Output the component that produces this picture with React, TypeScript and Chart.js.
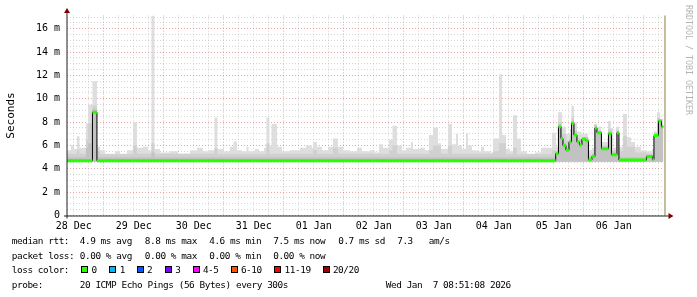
import React, { useEffect, useRef } from 'react';
import { Chart, registerables } from 'chart.js';

Chart.register(...registerables);

// ---- axis data (hours since 28 Dec 00:00) ----
const xStart = 9.32;
const xEnd = 249.32;
const nowHour = 248.5;
const dataEnd = 247.84;
const dayLabels = ['28 Dec', '29 Dec', '30 Dec', '31 Dec', '01 Jan', '02 Jan', '03 Jan', '04 Jan', '05 Jan', '06 Jan'];
const yMax = 17.14;
const yMajorTicks = [0, 2, 4, 6, 8, 10, 12, 14, 16];
const yUnit = 'm';

// ---- series: [start hour, value in ms] ----
const medianSteps: [number, number][] = [
  [9.3, 4.7], [19.5, 8.85], [21.3, 4.7], [204.8, 5.3], [205.9, 7.6], [206.9, 6.6], [207.7, 6.0],
  [208.9, 5.6], [210.1, 6.3], [211.1, 7.9], [212.1, 6.9], [213.3, 6.3], [214.3, 6.05], [215.3, 6.55],
  [216.9, 6.4], [217.9, 4.77], [219.3, 5.05], [220.5, 7.5], [221.3, 7.1], [223.1, 5.72], [225.9, 7.0],
  [227.1, 5.2], [229.3, 7.1], [230.1, 4.75], [241.1, 5.05], [243.5, 4.8], [244.1, 6.85], [245.9, 8.1],
  [247.1, 7.6],
];

const smokeMaxSteps: [number, number][] = [
  [9.3, 5.6], [10.9, 6.0], [12.1, 5.7], [13.3, 6.8], [14.3, 5.8], [16.9, 7.9], [17.7, 9.5], [19.5, 11.5],
  [21.3, 5.9], [22.5, 5.6], [24.5, 5.3], [28.5, 5.5], [30.5, 5.3], [33.3, 5.6], [35.7, 8.0], [37.3, 5.8],
  [39.7, 5.9], [41.7, 5.6], [43.1, 17.2], [44.3, 5.7], [46.5, 5.4], [50.5, 5.5], [53.7, 5.3], [58.5, 5.6],
  [61.3, 5.8], [63.7, 5.5], [65.7, 5.6], [68.3, 8.4], [69.5, 5.7], [72.1, 5.5], [74.5, 5.9], [75.9, 6.35],
  [77.3, 5.6], [79.3, 5.5], [81.1, 5.9], [81.9, 5.5], [84.5, 5.7], [86.1, 5.5], [88.1, 5.8], [89.1, 8.4],
  [90.3, 6.0], [91.1, 7.85], [93.3, 5.9], [95.3, 5.5], [98.5, 5.6], [102.5, 5.8], [104.9, 6.0], [107.3, 5.8],
  [107.7, 6.3], [109.3, 5.9], [111.3, 5.6], [113.7, 5.9], [115.7, 6.6], [117.7, 5.9], [119.7, 5.6],
  [122.5, 5.5], [125.3, 5.8], [127.3, 5.5], [130.5, 5.6], [132.5, 5.4], [134.1, 6.1], [135.7, 5.8],
  [138.1, 6.5], [139.5, 7.7], [141.3, 6.0], [143.3, 5.6], [144.9, 5.8], [146.9, 6.3], [147.7, 5.7],
  [150.5, 5.8], [152.5, 5.6], [154.1, 6.9], [155.7, 7.55], [157.7, 6.2], [158.9, 5.7], [161.7, 7.85],
  [163.3, 6.1], [164.9, 7.0], [165.7, 6.0], [167.3, 5.7], [168.9, 7.05], [169.7, 6.0], [171.3, 5.6],
  [173.7, 5.5], [174.9, 5.9], [176.1, 5.5], [178.5, 5.4], [179.7, 6.6], [182.1, 12.1], [183.3, 6.9],
  [184.9, 5.7], [186.5, 5.5], [187.7, 8.6], [189.3, 6.6], [190.9, 5.5], [193.3, 5.3], [196.5, 5.4],
  [198.9, 5.8], [203.3, 7.1], [204.9, 5.9], [205.7, 8.85], [207.3, 7.6], [208.9, 7.0], [210.5, 7.4],
  [211.1, 9.4], [212.1, 8.0], [213.3, 7.2], [214.9, 7.0], [217.7, 5.6], [219.3, 5.8], [220.1, 7.85],
  [221.3, 7.6], [222.9, 6.3], [225.7, 8.1], [226.9, 7.5], [227.7, 5.8], [228.9, 7.6], [230.1, 5.9],
  [231.7, 8.7], [233.3, 6.7], [234.9, 6.3], [236.5, 5.9], [238.9, 5.6], [241.3, 5.5], [243.3, 5.7],
  [244.1, 7.2], [245.3, 8.85], [246.5, 8.3],
];

const smokeMidSteps: [number, number][] = [
  [9.3, 5.3], [13.3, 5.6], [14.3, 5.3], [16.9, 6.5], [17.7, 7.9], [19.5, 9.4], [21.3, 5.5], [22.5, 5.25],
  [35.7, 6.0], [37.3, 5.3], [43.1, 6.2], [44.3, 5.3], [68.3, 5.8], [69.5, 5.25], [89.1, 6.2], [90.3, 5.3],
  [107.7, 5.6], [109.3, 5.3], [115.7, 5.8], [117.7, 5.3], [138.1, 5.6], [139.5, 6.0], [141.3, 5.3],
  [154.1, 5.6], [155.7, 6.0], [158.9, 5.3], [161.7, 6.0], [163.3, 5.3], [179.7, 5.5], [182.1, 6.2],
  [184.9, 5.25], [187.7, 5.8], [189.3, 5.25], [203.3, 5.6], [204.9, 5.3], [205.7, 8.0], [207.3, 7.0],
  [208.9, 6.4], [210.5, 6.8], [211.1, 8.4], [212.1, 7.3], [213.3, 6.6], [214.9, 6.5], [217.7, 5.2],
  [220.1, 7.8], [221.3, 7.3], [222.9, 6.0], [225.7, 7.4], [227.1, 5.6], [228.9, 7.3], [230.1, 5.5],
  [231.7, 6.8], [233.3, 5.9], [236.5, 5.4], [241.3, 5.3], [244.1, 7.1], [245.3, 8.4], [246.5, 7.8],
];

const smokeCoreSteps: [number, number][] = [
  [9.3, 5.0], [16.9, 5.8], [17.7, 6.2], [19.5, 9.1], [21.3, 5.0], [43.1, 5.4], [44.3, 5.0], [204.8, 5.5],
  [205.9, 7.8], [206.9, 6.8], [207.7, 6.2], [208.9, 5.8], [210.1, 6.5], [211.1, 8.1], [212.1, 7.1],
  [213.3, 6.5], [215.3, 6.7], [217.9, 5.0], [219.3, 5.3], [220.5, 7.6], [221.3, 7.2], [223.1, 5.9],
  [225.9, 7.2], [227.3, 5.4], [229.3, 7.2], [230.1, 5.0], [241.1, 5.2], [243.5, 5.0], [244.1, 7.0],
  [245.9, 8.2], [247.1, 7.7],
];
const smokeFloor = 4.6;

// ---- legend texts ----
const rttStats = ['4.9 ms avg', '8.8 ms max', '4.6 ms min', '7.5 ms now', '0.7 ms sd'];
const ampsValue = '7.3';
const ampsUnit = 'am/s';
const lossStats = ['0.00 % avg', '0.00 % max', '0.00 % min', '0.00 % now'];
const lossLegend: [string, string][] = [
  ['0', '#26ff00'], ['1', '#00b8ff'], ['2', '#0059ff'], ['3', '#7e00ff'],
  ['4-5', '#ff00ff'], ['6-10', '#ff5500'], ['11-19', '#ff0000'], ['20/20', '#a10000'],
];
const probeText = '20 ICMP Echo Pings (56 Bytes) every 300s';
const dateText = 'Wed Jan  7 08:51:08 2026';
const watermark = 'RRDTOOL / TOBI OETIKER';

const MONO = "'DejaVu Sans Mono', monospace";

function stepPoints(steps: [number, number][]) {
  const pts = steps.map(([x, y]) => ({ x, y }));
  pts.push({ x: dataEnd, y: steps[steps.length - 1][1] });
  return pts;
}

function bandPoints(steps: [number, number][]) {
  const pts: { x: number; y: number }[] = [];
  steps.forEach(([x, y], i) => {
    const next = i + 1 < steps.length ? steps[i + 1][0] : dataEnd;
    pts.push({ x, y }, { x: next, y });
  });
  return pts;
}

const decorPlugin = {
  id: 'rrdDecor',
  afterDraw(chart: any) {
    const { ctx, chartArea: a, scales } = chart;
    const x = scales.x;
    ctx.save();
    const nx = x.getPixelForValue(nowHour);
    ctx.fillStyle = '#c6bf9c';
    ctx.fillRect(Math.round(nx) - 1, a.top, 2, a.bottom - a.top);
    ctx.strokeStyle = '#202020';
    ctx.lineWidth = 1;
    ctx.beginPath();
    ctx.moveTo(a.left - 3, a.bottom + 0.5);
    ctx.lineTo(a.right + 2, a.bottom + 0.5);
    ctx.moveTo(a.left, a.bottom + 3);
    ctx.lineTo(a.left, a.top - 2.5);
    ctx.stroke();
    ctx.fillStyle = '#7f0000';
    ctx.beginPath();
    ctx.moveTo(a.right + 1.5, a.bottom - 2.5);
    ctx.lineTo(a.right + 6.5, a.bottom + 0.5);
    ctx.lineTo(a.right + 1.5, a.bottom + 3.5);
    ctx.closePath();
    ctx.fill();
    ctx.beginPath();
    ctx.moveTo(a.left - 3, a.top - 2.5);
    ctx.lineTo(a.left, a.top - 7.5);
    ctx.lineTo(a.left + 3, a.top - 2.5);
    ctx.closePath();
    ctx.fill();
    ctx.translate(688, 5);
    ctx.rotate(Math.PI / 2);
    ctx.fillStyle = '#b4b4b4';
    ctx.font = `8.3px ${MONO}`;
    ctx.textBaseline = 'middle';
    ctx.textAlign = 'left';
    ctx.fillText(watermark, 0, 0);
    ctx.restore();
  },
};

const MAJOR = 'rgba(222,80,80,0.5)';
const MINOR = 'rgba(150,150,150,0.4)';

export default function App() {
  const ref = useRef<HTMLCanvasElement>(null);

  useEffect(() => {
    const green = lossLegend[0][1];
    const xTicks: number[] = [];
    for (let h = 12; h < xEnd; h += 6) if (h > xStart) xTicks.push(h);
    const yTicks: number[] = [];
    for (let v = 0; v <= yMajorTicks[yMajorTicks.length - 1] + 1; v += 0.5) if (v <= yMax) yTicks.push(v);

    const chart = new Chart(ref.current as HTMLCanvasElement, {
      type: 'line',
      data: {
        datasets: [
          {
            label: 'smoke max', data: stepPoints(smokeMaxSteps), stepped: true,
            borderColor: 'rgba(0,0,0,0)', borderWidth: 0, backgroundColor: '#dedede',
            fill: { value: smokeFloor }, pointRadius: 0, order: 5,
          },
          {
            label: 'smoke mid', data: stepPoints(smokeMidSteps), stepped: true,
            borderColor: 'rgba(0,0,0,0)', borderWidth: 0, backgroundColor: '#d0d0d0',
            fill: { value: smokeFloor }, pointRadius: 0, order: 4,
          },
          {
            label: 'smoke core', data: stepPoints(smokeCoreSteps), stepped: true,
            borderColor: 'rgba(0,0,0,0)', borderWidth: 0, backgroundColor: '#c2c2c2',
            fill: { value: smokeFloor }, pointRadius: 0, order: 3,
          },
          {
            label: 'median', data: stepPoints(medianSteps), stepped: true,
            borderColor: '#000000', borderWidth: 1, fill: false, pointRadius: 0, order: 2,
          },
          {
            label: 'median loss color', data: bandPoints(medianSteps),
            borderColor: green, borderWidth: 3, fill: false, pointRadius: 0, order: 1,
            borderCapStyle: 'butt',
            segment: {
              borderColor: (c: any) => (Math.abs(c.p0.x - c.p1.x) < 0.01 ? 'rgba(0,0,0,0)' : green),
            },
          } as any,
        ],
      },
      options: {
        responsive: false,
        animation: false,
        events: [],
        layout: { padding: { left: 0, top: 15.5, right: 30, bottom: 0 } },
        plugins: { legend: { display: false }, tooltip: { enabled: false }, title: { display: false } },
        scales: {
          x: {
            type: 'linear', min: xStart, max: xEnd,
            afterFit: (s: any) => { s.height = 297 - 215.5; },
            afterBuildTicks: (s: any) => { s.ticks = xTicks.map((value) => ({ value })); },
            grid: {
              color: (c: any) => (c.tick && c.tick.value % 24 === 0 ? MAJOR : MINOR),
              lineWidth: 1, drawTicks: false,
            },
            border: { display: false, dash: [1, 2] },
            ticks: {
              autoSkip: false, maxRotation: 0, minRotation: 0, padding: 5, color: '#000',
              font: { family: MONO, size: 10 },
              callback: (v: any) => {
                const n = Number(v);
                return (n - 12) % 24 === 0 ? dayLabels[(n - 12) / 24] : '';
              },
            },
          },
          y: {
            type: 'linear', min: 0, max: yMax,
            afterFit: (s: any) => { s.width = 67; },
            afterBuildTicks: (s: any) => { s.ticks = yTicks.map((value) => ({ value })); },
            grid: {
              color: (c: any) => (c.tick && yMajorTicks.includes(c.tick.value) ? MAJOR : MINOR),
              lineWidth: 1, drawTicks: false,
            },
            border: { display: false, dash: [1, 2] },
            title: {
              display: true, text: 'Seconds', color: '#000',
              font: { family: MONO, size: 11 }, padding: { top: 4.6, bottom: 0 },
            },
            ticks: {
              autoSkip: false, padding: 7, color: '#000', font: { family: MONO, size: 10 },
              callback: (v: any) => {
                const n = Number(v);
                if (!yMajorTicks.includes(n)) return '';
                return n === 0 ? '0' : `${n} ${yUnit}`;
              },
            },
          },
        },
      } as any,
      plugins: [decorPlugin],
    });
    return () => chart.destroy();
  }, []);

  const textStyle = {
    position: 'absolute' as const, fontFamily: MONO, fontSize: '9.4px', letterSpacing: '-0.44px',
    lineHeight: '10px', whiteSpace: 'pre' as const, color: '#000',
  };
  const txt = (x: number, baseline: number, s: string, key: string) => (
    <span key={key} style={{ ...textStyle, left: x, top: baseline - 8.25 }}>{s}</span>
  );

  const statX = [79.8, 144.8, 209.2, 273.2, 338.2];
  const boxX = [81, 109, 137, 165, 193, 231, 274, 323];
  const boxLabelX = [91.6, 119.8, 146.9, 175.3, 202.9, 240.9, 284.6, 332.9];
  const rows = [244.3, 258.8, 273.3, 287.8];

  return (
    <div style={{ position: 'fixed', left: 0, top: 0, width: 697, height: 297, background: '#fff', overflow: 'hidden' }}>
      <canvas ref={ref} width={697} height={297} style={{ position: 'absolute', left: 0, top: 0, width: 697, height: 297 }} />
      {txt(11.8, rows[0], 'median rtt:', 'r0')}
      {rttStats.map((s, i) => txt(statX[i], rows[0], s, 'rs' + i))}
      {txt(397.2, rows[0], ampsValue, 'av')}
      {txt(428.8, rows[0], ampsUnit, 'au')}
      {txt(11.8, rows[1], 'packet loss:', 'p0')}
      {lossStats.map((s, i) => txt(statX[i], rows[1], s, 'ls' + i))}
      {txt(11.8, rows[2], 'loss color:', 'c0')}
      {lossLegend.map(([label, color], i) => (
        <React.Fragment key={'lc' + i}>
          <span style={{
            position: 'absolute', left: boxX[i], top: 266, width: 7, height: 7, boxSizing: 'border-box',
            border: '1px solid #000', background: color,
          }} />
          {txt(boxLabelX[i], rows[2], label, 'lt' + i)}
        </React.Fragment>
      ))}
      {txt(11.8, rows[3], 'probe:', 'pr')}
      {txt(79.8, rows[3], probeText, 'pt')}
      <span style={{ ...textStyle, right: 697 - 510.3 - 0.44, top: rows[3] - 8.25 }}>{dateText}</span>
    </div>
  );
}
